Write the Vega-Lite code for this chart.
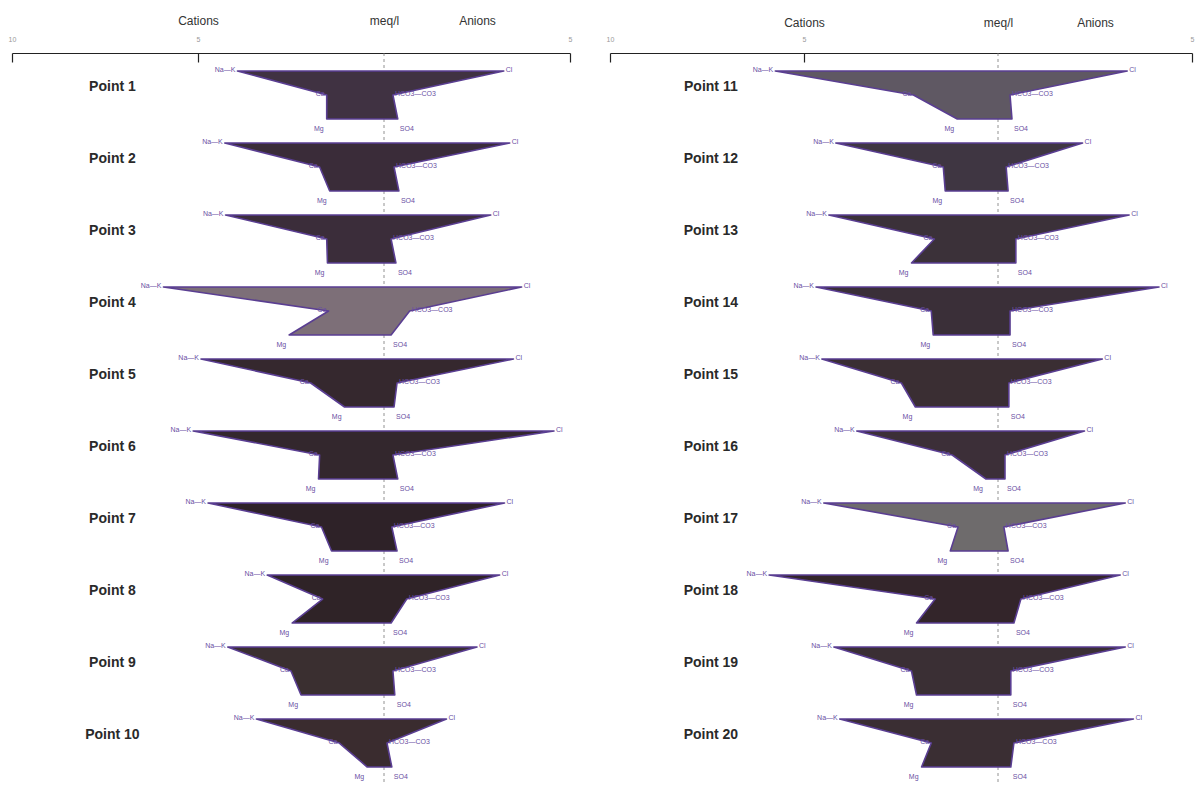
{
  "$schema": "https://vega.github.io/schema/vega-lite/v6.json",
  "background": "white",
  "padding": {"left": 8, "top": 14, "right": 2, "bottom": 4},
  "spacing": 40,
  "bounds": "flush",
  "config": {"view": {"stroke": null}, "font": "Liberation Sans"},
  "datasets": {
    "stiff": [
      {"point":"Point 1","panel":"L","row":1,"ion":"Na—K","level":1,"order":1,"meq":-3.94},
      {"point":"Point 1","panel":"L","row":1,"ion":"Cl","level":1,"order":2,"meq":3.22},
      {"point":"Point 1","panel":"L","row":1,"ion":"HCO3—CO3","level":2,"order":3,"meq":0.24},
      {"point":"Point 1","panel":"L","row":1,"ion":"SO4","level":3,"order":4,"meq":0.37},
      {"point":"Point 1","panel":"L","row":1,"ion":"Mg","level":3,"order":5,"meq":-1.54},
      {"point":"Point 1","panel":"L","row":1,"ion":"Ca","level":2,"order":6,"meq":-1.54},

      {"point":"Point 2","panel":"L","row":2,"ion":"Na—K","level":1,"order":1,"meq":-4.28},
      {"point":"Point 2","panel":"L","row":2,"ion":"Cl","level":1,"order":2,"meq":3.38},
      {"point":"Point 2","panel":"L","row":2,"ion":"HCO3—CO3","level":2,"order":3,"meq":0.27},
      {"point":"Point 2","panel":"L","row":2,"ion":"SO4","level":3,"order":4,"meq":0.40},
      {"point":"Point 2","panel":"L","row":2,"ion":"Mg","level":3,"order":5,"meq":-1.46},
      {"point":"Point 2","panel":"L","row":2,"ion":"Ca","level":2,"order":6,"meq":-1.73},

      {"point":"Point 3","panel":"L","row":3,"ion":"Na—K","level":1,"order":1,"meq":-4.26},
      {"point":"Point 3","panel":"L","row":3,"ion":"Cl","level":1,"order":2,"meq":2.87},
      {"point":"Point 3","panel":"L","row":3,"ion":"HCO3—CO3","level":2,"order":3,"meq":0.19},
      {"point":"Point 3","panel":"L","row":3,"ion":"SO4","level":3,"order":4,"meq":0.32},
      {"point":"Point 3","panel":"L","row":3,"ion":"Mg","level":3,"order":5,"meq":-1.52},
      {"point":"Point 3","panel":"L","row":3,"ion":"Ca","level":2,"order":6,"meq":-1.54},

      {"point":"Point 4","panel":"L","row":4,"ion":"Na—K","level":1,"order":1,"meq":-5.93},
      {"point":"Point 4","panel":"L","row":4,"ion":"Cl","level":1,"order":2,"meq":3.70},
      {"point":"Point 4","panel":"L","row":4,"ion":"HCO3—CO3","level":2,"order":3,"meq":0.69},
      {"point":"Point 4","panel":"L","row":4,"ion":"SO4","level":3,"order":4,"meq":0.19},
      {"point":"Point 4","panel":"L","row":4,"ion":"Mg","level":3,"order":5,"meq":-2.55},
      {"point":"Point 4","panel":"L","row":4,"ion":"Ca","level":2,"order":6,"meq":-1.49},

      {"point":"Point 5","panel":"L","row":5,"ion":"Na—K","level":1,"order":1,"meq":-4.92},
      {"point":"Point 5","panel":"L","row":5,"ion":"Cl","level":1,"order":2,"meq":3.48},
      {"point":"Point 5","panel":"L","row":5,"ion":"HCO3—CO3","level":2,"order":3,"meq":0.35},
      {"point":"Point 5","panel":"L","row":5,"ion":"SO4","level":3,"order":4,"meq":0.27},
      {"point":"Point 5","panel":"L","row":5,"ion":"Mg","level":3,"order":5,"meq":-1.06},
      {"point":"Point 5","panel":"L","row":5,"ion":"Ca","level":2,"order":6,"meq":-1.97},

      {"point":"Point 6","panel":"L","row":6,"ion":"Na—K","level":1,"order":1,"meq":-5.13},
      {"point":"Point 6","panel":"L","row":6,"ion":"Cl","level":1,"order":2,"meq":4.57},
      {"point":"Point 6","panel":"L","row":6,"ion":"HCO3—CO3","level":2,"order":3,"meq":0.24},
      {"point":"Point 6","panel":"L","row":6,"ion":"SO4","level":3,"order":4,"meq":0.37},
      {"point":"Point 6","panel":"L","row":6,"ion":"Mg","level":3,"order":5,"meq":-1.76},
      {"point":"Point 6","panel":"L","row":6,"ion":"Ca","level":2,"order":6,"meq":-1.73},

      {"point":"Point 7","panel":"L","row":7,"ion":"Na—K","level":1,"order":1,"meq":-4.73},
      {"point":"Point 7","panel":"L","row":7,"ion":"Cl","level":1,"order":2,"meq":3.24},
      {"point":"Point 7","panel":"L","row":7,"ion":"HCO3—CO3","level":2,"order":3,"meq":0.21},
      {"point":"Point 7","panel":"L","row":7,"ion":"SO4","level":3,"order":4,"meq":0.35},
      {"point":"Point 7","panel":"L","row":7,"ion":"Mg","level":3,"order":5,"meq":-1.41},
      {"point":"Point 7","panel":"L","row":7,"ion":"Ca","level":2,"order":6,"meq":-1.68},

      {"point":"Point 8","panel":"L","row":8,"ion":"Na—K","level":1,"order":1,"meq":-3.14},
      {"point":"Point 8","panel":"L","row":8,"ion":"Cl","level":1,"order":2,"meq":3.11},
      {"point":"Point 8","panel":"L","row":8,"ion":"HCO3—CO3","level":2,"order":3,"meq":0.61},
      {"point":"Point 8","panel":"L","row":8,"ion":"SO4","level":3,"order":4,"meq":0.19},
      {"point":"Point 8","panel":"L","row":8,"ion":"Mg","level":3,"order":5,"meq":-2.47},
      {"point":"Point 8","panel":"L","row":8,"ion":"Ca","level":2,"order":6,"meq":-1.65},

      {"point":"Point 9","panel":"L","row":9,"ion":"Na—K","level":1,"order":1,"meq":-4.20},
      {"point":"Point 9","panel":"L","row":9,"ion":"Cl","level":1,"order":2,"meq":2.50},
      {"point":"Point 9","panel":"L","row":9,"ion":"HCO3—CO3","level":2,"order":3,"meq":0.24},
      {"point":"Point 9","panel":"L","row":9,"ion":"SO4","level":3,"order":4,"meq":0.29},
      {"point":"Point 9","panel":"L","row":9,"ion":"Mg","level":3,"order":5,"meq":-2.23},
      {"point":"Point 9","panel":"L","row":9,"ion":"Ca","level":2,"order":6,"meq":-2.50},

      {"point":"Point 10","panel":"L","row":10,"ion":"Na—K","level":1,"order":1,"meq":-3.43},
      {"point":"Point 10","panel":"L","row":10,"ion":"Cl","level":1,"order":2,"meq":1.68},
      {"point":"Point 10","panel":"L","row":10,"ion":"HCO3—CO3","level":2,"order":3,"meq":0.08},
      {"point":"Point 10","panel":"L","row":10,"ion":"SO4","level":3,"order":4,"meq":0.21},
      {"point":"Point 10","panel":"L","row":10,"ion":"Mg","level":3,"order":5,"meq":-0.45},
      {"point":"Point 10","panel":"L","row":10,"ion":"Ca","level":2,"order":6,"meq":-1.20},

      {"point":"Point 11","panel":"R","row":1,"ion":"Na—K","level":1,"order":1,"meq":-5.74},
      {"point":"Point 11","panel":"R","row":1,"ion":"Cl","level":1,"order":2,"meq":3.33},
      {"point":"Point 11","panel":"R","row":1,"ion":"HCO3—CO3","level":2,"order":3,"meq":0.31},
      {"point":"Point 11","panel":"R","row":1,"ion":"SO4","level":3,"order":4,"meq":0.36},
      {"point":"Point 11","panel":"R","row":1,"ion":"Mg","level":3,"order":5,"meq":-1.05},
      {"point":"Point 11","panel":"R","row":1,"ion":"Ca","level":2,"order":6,"meq":-2.18},

      {"point":"Point 12","panel":"R","row":2,"ion":"Na—K","level":1,"order":1,"meq":-4.18},
      {"point":"Point 12","panel":"R","row":2,"ion":"Cl","level":1,"order":2,"meq":2.18},
      {"point":"Point 12","panel":"R","row":2,"ion":"HCO3—CO3","level":2,"order":3,"meq":0.21},
      {"point":"Point 12","panel":"R","row":2,"ion":"SO4","level":3,"order":4,"meq":0.26},
      {"point":"Point 12","panel":"R","row":2,"ion":"Mg","level":3,"order":5,"meq":-1.36},
      {"point":"Point 12","panel":"R","row":2,"ion":"Ca","level":2,"order":6,"meq":-1.41},

      {"point":"Point 13","panel":"R","row":3,"ion":"Na—K","level":1,"order":1,"meq":-4.36},
      {"point":"Point 13","panel":"R","row":3,"ion":"Cl","level":1,"order":2,"meq":3.38},
      {"point":"Point 13","panel":"R","row":3,"ion":"HCO3—CO3","level":2,"order":3,"meq":0.46},
      {"point":"Point 13","panel":"R","row":3,"ion":"SO4","level":3,"order":4,"meq":0.46},
      {"point":"Point 13","panel":"R","row":3,"ion":"Mg","level":3,"order":5,"meq":-2.23},
      {"point":"Point 13","panel":"R","row":3,"ion":"Ca","level":2,"order":6,"meq":-1.64},

      {"point":"Point 14","panel":"R","row":4,"ion":"Na—K","level":1,"order":1,"meq":-4.69},
      {"point":"Point 14","panel":"R","row":4,"ion":"Cl","level":1,"order":2,"meq":4.15},
      {"point":"Point 14","panel":"R","row":4,"ion":"HCO3—CO3","level":2,"order":3,"meq":0.31},
      {"point":"Point 14","panel":"R","row":4,"ion":"SO4","level":3,"order":4,"meq":0.31},
      {"point":"Point 14","panel":"R","row":4,"ion":"Mg","level":3,"order":5,"meq":-1.67},
      {"point":"Point 14","panel":"R","row":4,"ion":"Ca","level":2,"order":6,"meq":-1.72},

      {"point":"Point 15","panel":"R","row":5,"ion":"Na—K","level":1,"order":1,"meq":-4.54},
      {"point":"Point 15","panel":"R","row":5,"ion":"Cl","level":1,"order":2,"meq":2.69},
      {"point":"Point 15","panel":"R","row":5,"ion":"HCO3—CO3","level":2,"order":3,"meq":0.28},
      {"point":"Point 15","panel":"R","row":5,"ion":"SO4","level":3,"order":4,"meq":0.28},
      {"point":"Point 15","panel":"R","row":5,"ion":"Mg","level":3,"order":5,"meq":-2.13},
      {"point":"Point 15","panel":"R","row":5,"ion":"Ca","level":2,"order":6,"meq":-2.49},

      {"point":"Point 16","panel":"R","row":6,"ion":"Na—K","level":1,"order":1,"meq":-3.64},
      {"point":"Point 16","panel":"R","row":6,"ion":"Cl","level":1,"order":2,"meq":2.23},
      {"point":"Point 16","panel":"R","row":6,"ion":"HCO3—CO3","level":2,"order":3,"meq":0.18},
      {"point":"Point 16","panel":"R","row":6,"ion":"SO4","level":3,"order":4,"meq":0.18},
      {"point":"Point 16","panel":"R","row":6,"ion":"Mg","level":3,"order":5,"meq":-0.31},
      {"point":"Point 16","panel":"R","row":6,"ion":"Ca","level":2,"order":6,"meq":-1.18},

      {"point":"Point 17","panel":"R","row":7,"ion":"Na—K","level":1,"order":1,"meq":-4.49},
      {"point":"Point 17","panel":"R","row":7,"ion":"Cl","level":1,"order":2,"meq":3.28},
      {"point":"Point 17","panel":"R","row":7,"ion":"HCO3—CO3","level":2,"order":3,"meq":0.15},
      {"point":"Point 17","panel":"R","row":7,"ion":"SO4","level":3,"order":4,"meq":0.26},
      {"point":"Point 17","panel":"R","row":7,"ion":"Mg","level":3,"order":5,"meq":-1.23},
      {"point":"Point 17","panel":"R","row":7,"ion":"Ca","level":2,"order":6,"meq":-1.03},

      {"point":"Point 18","panel":"R","row":8,"ion":"Na—K","level":1,"order":1,"meq":-5.90},
      {"point":"Point 18","panel":"R","row":8,"ion":"Cl","level":1,"order":2,"meq":3.15},
      {"point":"Point 18","panel":"R","row":8,"ion":"HCO3—CO3","level":2,"order":3,"meq":0.59},
      {"point":"Point 18","panel":"R","row":8,"ion":"SO4","level":3,"order":4,"meq":0.41},
      {"point":"Point 18","panel":"R","row":8,"ion":"Mg","level":3,"order":5,"meq":-2.10},
      {"point":"Point 18","panel":"R","row":8,"ion":"Ca","level":2,"order":6,"meq":-1.62},

      {"point":"Point 19","panel":"R","row":9,"ion":"Na—K","level":1,"order":1,"meq":-4.23},
      {"point":"Point 19","panel":"R","row":9,"ion":"Cl","level":1,"order":2,"meq":3.28},
      {"point":"Point 19","panel":"R","row":9,"ion":"HCO3—CO3","level":2,"order":3,"meq":0.33},
      {"point":"Point 19","panel":"R","row":9,"ion":"SO4","level":3,"order":4,"meq":0.33},
      {"point":"Point 19","panel":"R","row":9,"ion":"Mg","level":3,"order":5,"meq":-2.10},
      {"point":"Point 19","panel":"R","row":9,"ion":"Ca","level":2,"order":6,"meq":-2.23},

      {"point":"Point 20","panel":"R","row":10,"ion":"Na—K","level":1,"order":1,"meq":-4.08},
      {"point":"Point 20","panel":"R","row":10,"ion":"Cl","level":1,"order":2,"meq":3.49},
      {"point":"Point 20","panel":"R","row":10,"ion":"HCO3—CO3","level":2,"order":3,"meq":0.41},
      {"point":"Point 20","panel":"R","row":10,"ion":"SO4","level":3,"order":4,"meq":0.33},
      {"point":"Point 20","panel":"R","row":10,"ion":"Mg","level":3,"order":5,"meq":-1.97},
      {"point":"Point 20","panel":"R","row":10,"ion":"Ca","level":2,"order":6,"meq":-1.72}
    ]
  },
  "hconcat": [
    {
      "width": 558,
      "height": 732,
      "data": {"name": "stiff"},
      "transform": [{"filter": "datum.panel == 'L'"}],
      "resolve": {"axis": {"x": "independent"}},
      "layer": [
        {
          "data": {"values": [{}]},
          "mark": {"type": "rule", "strokeDash": [3, 3], "color": "#777777", "strokeWidth": 0.8},
          "encoding": {"x": {"datum": 0, "scale": {"domain": [-10, 5]}, "axis": null}}
        },
        {
          "mark": {"type": "line", "interpolate": "linear-closed", "stroke": "#5a3e92", "strokeWidth": 1.6, "strokeJoin": "round"},
          "encoding": {
            "x": {"field": "meq", "type": "quantitative", "scale": {"domain": [-10, 5], "nice": false, "zero": false},
              "axis": {"orient": "top", "values": [-10, -5, 5], "labelExpr": "format(abs(datum.value), 'd')", "grid": false, "title": null,
                "domainColor": "#222222", "domainWidth": 1, "tickColor": "#222222", "tickSize": -9, "tickWidth": 1.2,
                "labelFontSize": 7, "labelColor": "#999999", "labelPadding": 20, "labelFlush": false}},
            "y": {"field": "row", "type": "ordinal", "axis": null, "scale": {"paddingInner": 0, "paddingOuter": 0.083}},
            "yOffset": {"field": "level", "type": "ordinal"},
            "detail": {"field": "point"},
            "order": {"field": "order", "type": "quantitative"},
            "fill": {"field": "point", "type": "nominal", "legend": null,
              "scale": {"domain": ["Point 1","Point 2","Point 3","Point 4","Point 5","Point 6","Point 7","Point 8","Point 9","Point 10","Point 11","Point 12","Point 13","Point 14","Point 15","Point 16","Point 17","Point 18","Point 19","Point 20"],
                "range": ["#403242","#3a2c39","#3b2d3a","#7d6f78","#35282e","#33272d","#2e2228","#2f2327","#3a2f30","#3a2c2f","#5f5863","#3f3642","#3b3139","#3a2f38","#3a2e33","#3c2f38","#6e6b6c","#33252a","#3a2f34","#3a2e33"]}}
          }
        },
        {
          "transform": [{"filter": "datum.level < 3 && datum.meq < 0"}],
          "mark": {"type": "text", "align": "right", "dx": -2, "dy": -1, "fontSize": 7, "color": "#6a4fa3"},
          "encoding": {
            "x": {"field": "meq", "type": "quantitative",
              "axis": {"orient": "top", "values": [-5, 0, 2.5], "labelExpr": "datum.value == -5 ? 'Cations' : datum.value == 0 ? 'meq/l' : 'Anions'",
                "domain": false, "ticks": false, "grid": false, "title": null, "labelFontSize": 12, "labelColor": "#333333", "labelPadding": 2, "offset": 24}},
            "y": {"field": "row", "type": "ordinal", "axis": null},
            "yOffset": {"field": "level", "type": "ordinal"},
            "text": {"field": "ion"}
          }
        },
        {
          "transform": [{"filter": "datum.level < 3 && datum.meq > 0"}],
          "mark": {"type": "text", "align": "left", "dx": 2, "dy": -1, "fontSize": 7, "color": "#6a4fa3"},
          "encoding": {
            "x": {"field": "meq", "type": "quantitative", "axis": null},
            "y": {"field": "row", "type": "ordinal", "axis": null},
            "yOffset": {"field": "level", "type": "ordinal"},
            "text": {"field": "ion"}
          }
        },
        {
          "transform": [{"filter": "datum.level == 3 && datum.meq < 0"}],
          "mark": {"type": "text", "align": "right", "dx": -3, "dy": 10, "fontSize": 7, "color": "#6a4fa3"},
          "encoding": {
            "x": {"field": "meq", "type": "quantitative", "axis": null},
            "y": {"field": "row", "type": "ordinal", "axis": null},
            "yOffset": {"field": "level", "type": "ordinal"},
            "text": {"field": "ion"}
          }
        },
        {
          "transform": [{"filter": "datum.level == 3 && datum.meq > 0"}],
          "mark": {"type": "text", "align": "left", "dx": 2, "dy": 10, "fontSize": 7, "color": "#6a4fa3"},
          "encoding": {
            "x": {"field": "meq", "type": "quantitative", "axis": null},
            "y": {"field": "row", "type": "ordinal", "axis": null},
            "yOffset": {"field": "level", "type": "ordinal"},
            "text": {"field": "ion"}
          }
        },
        {
          "transform": [{"filter": "datum.order == 1"}],
          "mark": {"type": "text", "align": "center", "dy": -8, "fontSize": 14, "fontWeight": "bold", "color": "#2a2a2a"},
          "encoding": {
            "x": {"datum": -7.3, "axis": null},
            "y": {"field": "row", "type": "ordinal", "axis": null},
            "text": {"field": "point"}
          }
        }
      ]
    },
    {
      "width": 582,
      "height": 732,
      "data": {"name": "stiff"},
      "transform": [{"filter": "datum.panel == 'R'"}],
      "resolve": {"axis": {"x": "independent"}},
      "layer": [
        {
          "data": {"values": [{}]},
          "mark": {"type": "rule", "strokeDash": [3, 3], "color": "#777777", "strokeWidth": 0.8},
          "encoding": {"x": {"datum": 0, "scale": {"domain": [-10, 5]}, "axis": null}}
        },
        {
          "mark": {"type": "line", "interpolate": "linear-closed", "stroke": "#5a3e92", "strokeWidth": 1.6, "strokeJoin": "round"},
          "encoding": {
            "x": {"field": "meq", "type": "quantitative", "scale": {"domain": [-10, 5], "nice": false, "zero": false},
              "axis": {"orient": "top", "values": [-10, -5, 5], "labelExpr": "format(abs(datum.value), 'd')", "grid": false, "title": null,
                "domainColor": "#222222", "domainWidth": 1, "tickColor": "#222222", "tickSize": -9, "tickWidth": 1.2,
                "labelFontSize": 7, "labelColor": "#999999", "labelPadding": 20, "labelFlush": false}},
            "y": {"field": "row", "type": "ordinal", "axis": null, "scale": {"paddingInner": 0, "paddingOuter": 0.083}},
            "yOffset": {"field": "level", "type": "ordinal"},
            "detail": {"field": "point"},
            "order": {"field": "order", "type": "quantitative"},
            "fill": {"field": "point", "type": "nominal", "legend": null,
              "scale": {"domain": ["Point 1","Point 2","Point 3","Point 4","Point 5","Point 6","Point 7","Point 8","Point 9","Point 10","Point 11","Point 12","Point 13","Point 14","Point 15","Point 16","Point 17","Point 18","Point 19","Point 20"],
                "range": ["#403242","#3a2c39","#3b2d3a","#7d6f78","#35282e","#33272d","#2e2228","#2f2327","#3a2f30","#3a2c2f","#5f5863","#3f3642","#3b3139","#3a2f38","#3a2e33","#3c2f38","#6e6b6c","#33252a","#3a2f34","#3a2e33"]}}
          }
        },
        {
          "transform": [{"filter": "datum.level < 3 && datum.meq < 0"}],
          "mark": {"type": "text", "align": "right", "dx": -2, "dy": -1, "fontSize": 7, "color": "#6a4fa3"},
          "encoding": {
            "x": {"field": "meq", "type": "quantitative",
              "axis": {"orient": "top", "values": [-5, 0, 2.5], "labelExpr": "datum.value == -5 ? 'Cations' : datum.value == 0 ? 'meq/l' : 'Anions'",
                "domain": false, "ticks": false, "grid": false, "title": null, "labelFontSize": 12, "labelColor": "#333333", "labelPadding": 2, "offset": 22}},
            "y": {"field": "row", "type": "ordinal", "axis": null},
            "yOffset": {"field": "level", "type": "ordinal"},
            "text": {"field": "ion"}
          }
        },
        {
          "transform": [{"filter": "datum.level < 3 && datum.meq > 0"}],
          "mark": {"type": "text", "align": "left", "dx": 2, "dy": -1, "fontSize": 7, "color": "#6a4fa3"},
          "encoding": {
            "x": {"field": "meq", "type": "quantitative", "axis": null},
            "y": {"field": "row", "type": "ordinal", "axis": null},
            "yOffset": {"field": "level", "type": "ordinal"},
            "text": {"field": "ion"}
          }
        },
        {
          "transform": [{"filter": "datum.level == 3 && datum.meq < 0"}],
          "mark": {"type": "text", "align": "right", "dx": -3, "dy": 10, "fontSize": 7, "color": "#6a4fa3"},
          "encoding": {
            "x": {"field": "meq", "type": "quantitative", "axis": null},
            "y": {"field": "row", "type": "ordinal", "axis": null},
            "yOffset": {"field": "level", "type": "ordinal"},
            "text": {"field": "ion"}
          }
        },
        {
          "transform": [{"filter": "datum.level == 3 && datum.meq > 0"}],
          "mark": {"type": "text", "align": "left", "dx": 2, "dy": 10, "fontSize": 7, "color": "#6a4fa3"},
          "encoding": {
            "x": {"field": "meq", "type": "quantitative", "axis": null},
            "y": {"field": "row", "type": "ordinal", "axis": null},
            "yOffset": {"field": "level", "type": "ordinal"},
            "text": {"field": "ion"}
          }
        },
        {
          "transform": [{"filter": "datum.order == 1"}],
          "mark": {"type": "text", "align": "center", "dy": -8, "fontSize": 14, "fontWeight": "bold", "color": "#2a2a2a"},
          "encoding": {
            "x": {"datum": -7.4, "axis": null},
            "y": {"field": "row", "type": "ordinal", "axis": null},
            "text": {"field": "point"}
          }
        }
      ]
    }
  ]
}
